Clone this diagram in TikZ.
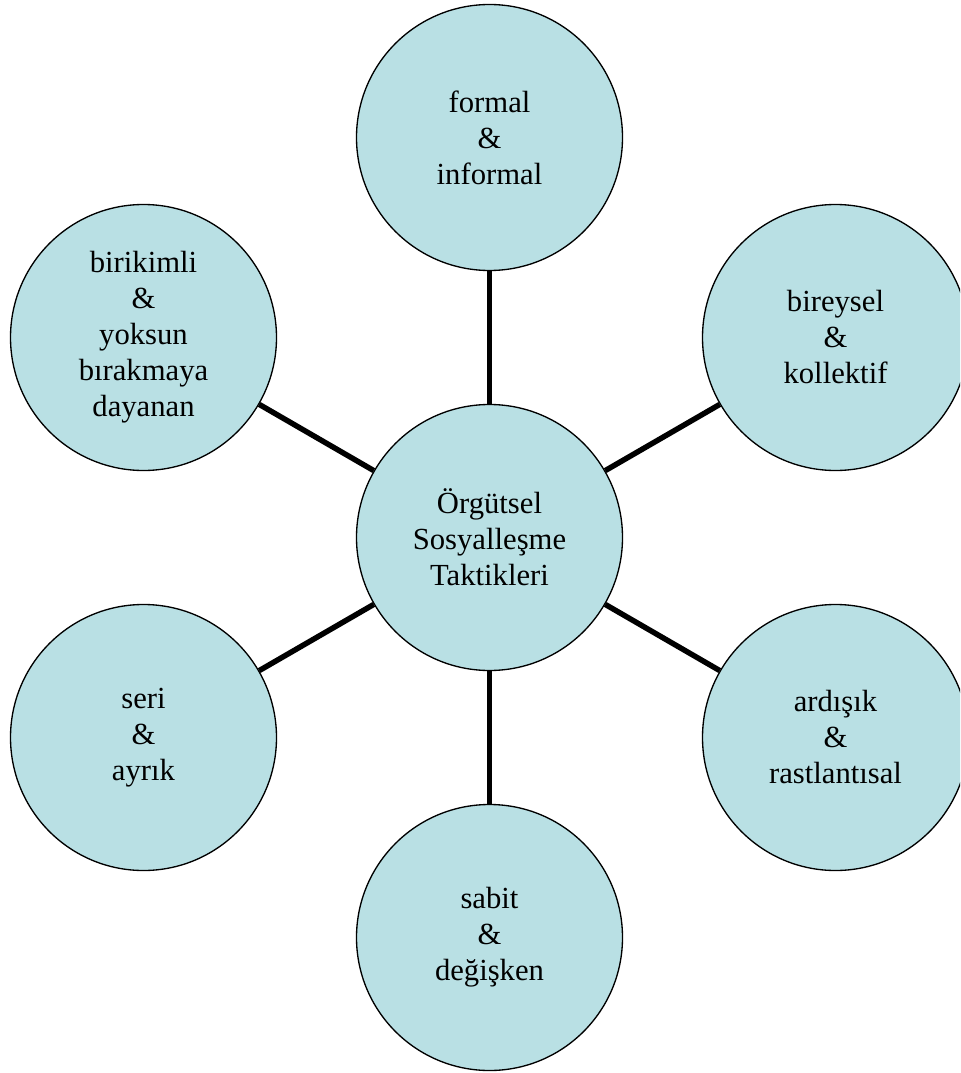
\documentclass[tikz,border=0pt]{standalone}
\usepackage{fontspec}
\setmainfont{Liberation Serif}
\definecolor{bub}{RGB}{185,224,228}
\begin{document}
\begin{tikzpicture}[x=0.75pt,y=-0.75pt,
  bubble/.style={circle,draw=black,line width=1pt,fill=bub,minimum size=199.5pt,inner sep=0pt,align=center,font=\fontsize{23}{27}\selectfont},
  spoke/.style={line width=4.1pt,draw=black}]
\useasboundingbox (0,0) rectangle (960,1073);
\clip (0,0) rectangle (960,1073);
\node[bubble] (c)  at (489.5,537.5) {Örgütsel\\Sosyalleşme\\Taktikleri};
\node[bubble] (t)  at (489.5,137.5) {formal\\\&\\informal};
\node[bubble] (tr) at (835.5,337.5) {bireysel\\\&\\kollektif};
\node[bubble] (br) at (835.5,737.5) {ardışık\\\&\\rastlantısal};
\node[bubble] (b)  at (489.5,937.5) {sabit\\\&\\değişken};
\node[bubble] (bl) at (143.5,737.5) {seri\\\&\\ayrık};
\node[bubble] (tl) at (143.5,337.5) {birikimli\\\&\\yoksun\\bırakmaya\\dayanan};
\foreach \n in {t,tr,br,b,bl,tl} \draw[spoke] (c) -- (\n);
\end{tikzpicture}
\end{document}
